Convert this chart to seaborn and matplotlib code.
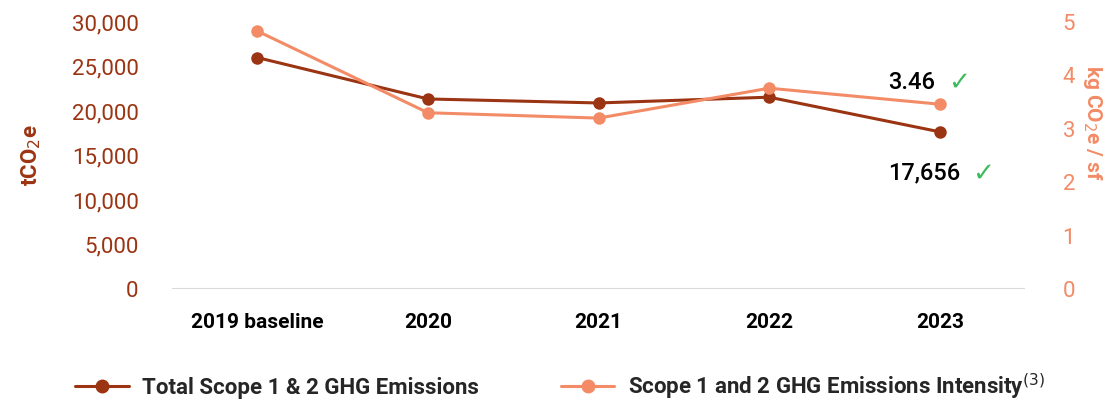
#!/usr/bin/env python3

import pandas as pd
import seaborn as sns
from matplotlib import pyplot as plt
from matplotlib.lines import Line2D

years = ["2019 baseline", "2020", "2021", "2022", "2023"]
total_emissions = [26000, 21350, 20900, 21550, 17656]
intensity = [4.83, 3.30, 3.20, 3.76, 3.46]

DARK = "#9b3412"
LIGHT = "#f28b66"
GREEN = "#3dba5c"


def plot():
    sns.set_theme(style="white")
    plt.rcParams["font.family"] = ["Roboto", "DejaVu Sans"]

    df = pd.DataFrame({"Year": years, "Total": total_emissions, "Intensity": intensity})

    fig = plt.figure(figsize=(11.05, 4.07), dpi=100)
    ax = fig.add_axes([0.1557, 0.29, 0.772, 0.656])
    ax2 = ax.twinx()

    sns.lineplot(df, x="Year", y="Total", ax=ax, color=DARK, marker="o", markersize=9,
                 markeredgewidth=0, linewidth=2.2, sort=False, zorder=3)
    sns.lineplot(df, x="Year", y="Intensity", ax=ax2, color=LIGHT, marker="o", markersize=9,
                 markeredgewidth=0, linewidth=2.2, sort=False, zorder=3)

    ax.set_xlim(-0.5, 4.5)
    ax.set_ylim(0, 30000)
    ax2.set_ylim(0, 5)
    ax.set_yticks(range(0, 30001, 5000))
    ax.set_yticklabels([f"{v:,}" for v in range(0, 30001, 5000)])
    ax2.set_yticks(range(0, 6))

    for a in (ax, ax2):
        for s in a.spines.values():
            s.set_visible(False)
        a.set_xlabel("")
    ax.axhline(0, color="#d9d9d9", linewidth=1.5, zorder=1)

    ax.tick_params(axis="y", colors=DARK, labelsize=16, length=0, pad=24)
    ax2.tick_params(axis="y", colors=LIGHT, labelsize=16, length=0, pad=27)
    ax.tick_params(axis="x", length=0, pad=17)
    for lbl in ax.get_xticklabels():
        lbl.set_fontweight("bold")
        lbl.set_fontsize(15)
        lbl.set_color("black")

    ax.set_ylabel("tCO$_2$e", color=DARK, fontsize=16, fontweight="bold")
    ax.yaxis.set_label_coords(-0.151, 0.5)
    ax2.set_ylabel("kg CO$_2$e / sf", color=LIGHT, fontsize=15, fontweight="bold",
                   rotation=270, va="center")
    ax2.yaxis.set_label_coords(1.079, 0.62)

    # end-point callouts
    ax2.text(3.97, intensity[-1] + 0.41, f"{intensity[-1]:.2f}", ha="right", va="center",
             fontsize=17, fontweight="medium", color="black")
    ax2.text(4.05, intensity[-1] + 0.41, "\u2713", ha="left", va="center",
             fontsize=19, color=GREEN, family=["DejaVu Sans"])
    ax.text(4.12, total_emissions[-1] - 4650, f"{total_emissions[-1]:,}", ha="right",
            va="center", fontsize=17, fontweight="medium", color="black")
    ax.text(4.19, total_emissions[-1] - 4650, "\u2713", ha="left", va="center",
            fontsize=19, color=GREEN, family=["DejaVu Sans"])

    handles = [
        Line2D([], [], color=DARK, marker="o", markersize=9, linewidth=2.2),
        Line2D([], [], color=LIGHT, marker="o", markersize=9, linewidth=2.2),
    ]
    labels = ["Total Scope 1 & 2 GHG Emissions",
              "Scope 1 and 2 GHG Emissions Intensity$^{(3)}$"]
    fig.legend(handles, labels, loc="center left", bbox_to_anchor=(0.05, 0.05), ncol=2,
               frameon=False, handlelength=2.4, handletextpad=0.6, columnspacing=3.7,
               prop={"weight": "bold", "size": 16})

    fig.savefig("out.png", dpi=100)
    plt.close(fig)


def main():
    plot()


if __name__ == '__main__':
    main()
